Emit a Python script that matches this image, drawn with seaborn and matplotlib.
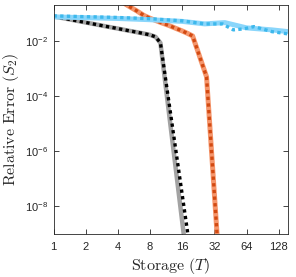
import numpy as np
import pandas as pd
import matplotlib
matplotlib.use("Agg")
import matplotlib.pyplot as plt
import seaborn as sns
from matplotlib.ticker import FixedLocator, FixedFormatter, NullLocator

# ---------------- data ----------------
T_gray = [1, 2, 3, 4, 5, 6, 7, 8, 9, 10, 18]
err_gray = [0.0773, 0.0465, 0.0344, 0.0279, 0.0236, 0.0207, 0.0184, 0.0165, 0.0140, 0.00847, 6.3e-11]

T_black = [1, 2, 3, 4, 5, 6, 7, 8, 9, 10, 20]
err_black = [0.0773, 0.0465, 0.0344, 0.0279, 0.0236, 0.0207, 0.0184, 0.0165, 0.0140, 0.00847, 6.3e-11]

T_orange = [4, 5, 6, 7, 8, 10, 12, 14, 16, 18, 20, 27, 36]
err_orange = [0.324, 0.186, 0.123, 0.0839, 0.0661, 0.0468, 0.0363, 0.0282, 0.0229, 0.0186, 0.0151, 5.0e-4, 2.8e-11]

T_blue_solid = [1, 4, 8, 16, 26, 40, 64, 110, 156]
err_blue_solid = [0.0741, 0.0649, 0.0586, 0.0509, 0.0413, 0.0460, 0.0296, 0.0251, 0.0217]

T_blue_dot = [1, 4, 8, 16, 26, 38, 48, 60, 75, 110, 156]
err_blue_dot = [0.0805, 0.0705, 0.0637, 0.0531, 0.0413, 0.0413, 0.0251, 0.0272, 0.0330, 0.0217, 0.0179]

xticks = [1, 2, 4, 8, 16, 32, 64, 128]
xtick_labels = ["1", "2", "4", "8", "16", "32", "64", "128"]
yticks = [1e-8, 1e-6, 1e-4, 1e-2]
ytick_labels = [r"$10^{-8}$", r"$10^{-6}$", r"$10^{-4}$", r"$10^{-2}$"]

# ---------------- style ----------------
sns.set_theme(style="white")
plt.rcParams.update({
    "mathtext.fontset": "custom",
    "mathtext.rm": "Liberation Sans",
    "mathtext.it": "Liberation Sans:italic",
    "mathtext.bf": "Liberation Sans:bold",
    "font.family": ["Liberation Sans", "DejaVu Sans"],
})

fig = plt.figure(figsize=(2.96, 2.77), dpi=100)
ax = fig.add_axes([53.5 / 296, 1 - 234 / 277, (288 - 53.5) / 296, (234 - 5) / 277])

dot = (0, (1, 1))

def draw(T, E, color, lw, ls="-"):
    df = pd.DataFrame({"T": T, "E": E})
    sns.lineplot(data=df, x="T", y="E", ax=ax, color=color, lw=lw,
                 linestyle=ls, estimator=None, sort=False,
                 solid_capstyle="butt", dash_capstyle="butt")

draw(T_gray, err_gray, "#a3a3a3", 3.2)
draw(T_black, err_black, "#000000", 2.4, dot)
draw(T_orange, err_orange, "#f5966c", 3.6)
draw(T_orange, err_orange, "#d24a12", 2.4, dot)
draw(T_blue_solid, err_blue_solid, "#8ad6fb", 3.6)
draw(T_blue_dot, err_blue_dot, "#3db8ec", 2.4, dot)

ax.set_xscale("log", base=2)
ax.set_yscale("log")
ax.set_xlim(1, 156)
ax.set_ylim(1e-9, 0.2)

ax.xaxis.set_major_locator(FixedLocator(xticks))
ax.xaxis.set_major_formatter(FixedFormatter(xtick_labels))
ax.xaxis.set_minor_locator(NullLocator())
ax.yaxis.set_major_locator(FixedLocator(yticks))
ax.yaxis.set_major_formatter(FixedFormatter(ytick_labels))
ax.yaxis.set_minor_locator(NullLocator())

ax.tick_params(which="major", direction="in", length=3.5, width=0.6,
               color="#262626", labelsize=8, labelcolor="#262626",
               top=True, right=True, bottom=True, left=True)
ax.tick_params(axis="x", pad=6)
ax.tick_params(axis="y", pad=4)
for lab in ax.get_yticklabels():
    lab.set_math_fontfamily("custom")

for s in ax.spines.values():
    s.set_color("#262626")
    s.set_linewidth(0.6)
    s.set_visible(True)

ax.set_xlabel(r"$\mathrm{Storage}\ (T)$", fontsize=11.5, math_fontfamily="cm",
              color="#262626", labelpad=3)
ax.set_ylabel(r"$\mathrm{Relative\ Error}\ (S_2)$", fontsize=11.5,
              math_fontfamily="cm", color="#262626", labelpad=3)

fig.savefig("out.png", dpi=100)
